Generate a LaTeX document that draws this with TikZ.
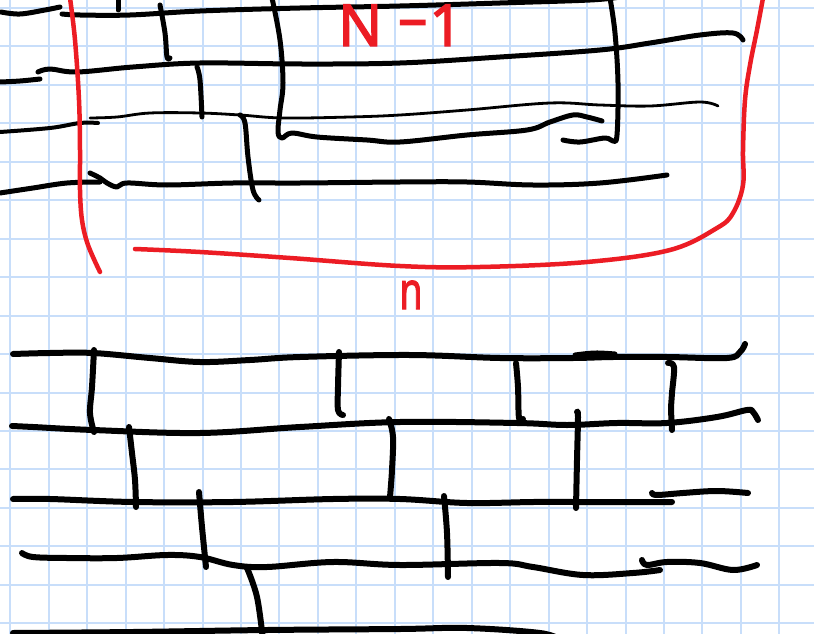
\documentclass[tikz,border=0pt]{standalone}
\usepackage{fontspec}
\newfontfamily\hand[FakeBold=2.2]{Noto Sans}
\definecolor{gridblue}{RGB}{200,222,250}
\definecolor{penred}{RGB}{236,28,36}
\tikzset{
  gridline/.style={draw=gridblue, line width=2pt},
  wall/.style={draw=black, line width=5pt, line cap=round, line join=round},
  wallthick/.style={draw=black, line width=6pt, line cap=round, line join=round},
  wallthin/.style={draw=black, line width=2.8pt, line cap=round, line join=round},
  redpen/.style={draw=penred, line width=4.5pt, line cap=round, line join=round},
  sm/.style={smooth, tension=0.6},
}
\begin{document}
\begin{tikzpicture}[x=1pt, y=-1pt]
\useasboundingbox (0,0) rectangle (814,634);
\fill[white] (0,0) rectangle (814,634);
\begin{scope}
\clip (0,0) rectangle (814,634);
% grid
\foreach \i in {0,...,21} \draw[gridline] ({10.3+38.45*\i},0) -- ({10.3+38.45*\i},634);
\foreach \j in {0,...,16} \draw[gridline] (0,{8+38.45*\j}) -- (814,{8+38.45*\j});

% ---------- top section ----------
% H1
\draw[wall] plot[sm] coordinates {(1,12) (20,14) (45,10) (60,7)};
\draw[wall] plot[sm] coordinates {(62,14) (80,15) (130,15) (200,11) (300,8) (400,6) (500,3) (590,0) (620,-3)};
% H2
\draw[wall] plot[sm] coordinates {(0,82) (20,81) (40,79)};
\draw[wall] plot[sm] coordinates {(38,72) (50,69) (77,72) (133,67) (200,63) (300,64) (400,63) (500,57) (600,50) (650,43) (700,35) (733,33) (743,40)};
% H3 thin
\draw[wall, line width=4pt] plot[sm] coordinates {(0,132) (50,128) (80,123) (98,123)};
\draw[wallthin] plot[sm] coordinates {(90,118) (117,117) (150,113) (200,113) (240,115) (283,118) (350,117) (400,115) (467,110) (550,103) (600,105) (650,106) (700,102) (718,106)};
% box left + bottom
\draw[wall] plot[sm] coordinates {(272,-2) (280,40) (283,83) (280,110) (278,132) (282,138) (292,133) (317,137) (367,140) (400,142) (467,135) (527,130) (550,122) (573,115) (587,117) (602,121)};
% box right + lower stroke
\draw[wall] plot[sm] coordinates {(610,-2) (615,33) (618,83) (617,135) (613,141) (605,138) (580,142) (563,140)};
% H5
\draw[wall] plot[sm] coordinates {(0,193) (33,188) (67,183) (100,182)};
\draw[wall] plot[sm] coordinates {(90,173) (100,178) (107,183) (117,187) (127,183) (167,185) (233,183) (300,183) (400,182) (467,182) (533,185) (600,183) (667,175)};
% verticals
\draw[wall] (118,-2) -- (118,10);
\draw[wall] plot[sm] coordinates {(160,5) (165,33) (167,57) (170,58)};
\draw[wall] plot[sm] coordinates {(197,67) (200,80) (202,117)};
\draw[wall] plot[sm] coordinates {(240,115) (245,123) (248,157) (253,190) (259,200)};

% red bracket
\draw[redpen] plot[sm] coordinates {(70,-2) (75,40) (79,100) (80,150) (80,190) (82,220) (88,245) (100,272)};
\draw[redpen] plot[sm] coordinates {(135,249) (200,252) (290,258) (400,266) (480,267) (587,262) (670,250) (717,228) (733,213) (743,185) (743,150) (745,100) (750,65) (757,30) (763,-2)};

% ---------- bottom section ----------
% B1
\draw[wallthick] plot[sm] coordinates {(13,354) (50,353) (93,353) (150,358) (200,362) (250,360) (300,357) (410,355) (500,358) (573,358) (613,357) (667,357) (727,358) (740,352) (745,344)};
\draw[wallthick, line width=5pt] plot[sm] coordinates {(575,355) (595,353) (615,354)};
% B2
\draw[wallthick] plot[sm] coordinates {(12,426) (33,427) (93,430) (200,433) (300,427) (400,422) (517,423) (567,425) (617,423) (667,423) (717,417) (747,410) (753,412) (758,420)};
% B3
\draw[wallthick] plot[sm] coordinates {(13,499) (50,499) (133,502) (233,502) (333,499) (400,499) (467,503) (533,502) (577,502) (633,502) (672,502)};
\draw[wallthick] plot[sm] coordinates {(652,493) (657,495) (683,493) (717,491) (748,493)};
% B4
\draw[wallthick] plot[sm] coordinates {(22,553) (33,557) (67,558) (117,558) (167,555) (200,557) (233,565) (267,567) (333,562) (400,565) (500,563) (533,567) (583,575) (633,573) (660,570)};
\draw[wallthick] plot[sm] coordinates {(642,560) (647,565) (667,562) (700,563) (733,570) (757,565)};
% B5
\draw[wallthick] plot[sm] coordinates {(13,633) (133,632) (267,630) (400,629) (467,628) (540,633) (560,640)};
% verticals
\draw[wallthick] plot[sm] coordinates {(94,350) (92,387) (90,413) (94,432)};
\draw[wallthick] plot[sm] coordinates {(129,427) (132,453) (135,480) (136,507)};
\draw[wallthick] plot[sm] coordinates {(199,492) (202,527) (206,567)};
\draw[wallthick] plot[sm] coordinates {(247,568) (257,597) (263,640)};
\draw[wallthick] plot[sm] coordinates {(339,352) (338,387) (338,410) (343,415)};
\draw[wallthick] plot[sm] coordinates {(389,419) (393,437) (392,470) (390,497)};
\draw[wallthick] plot[sm] coordinates {(516,363) (518,387) (519,418) (523,419)};
\draw[wallthick] plot[sm] coordinates {(577,412) (578,417) (577,460) (576,508)};
\draw[wallthick] plot[sm] coordinates {(668,363) (674,367) (672,393) (671,407) (672,430)};
\draw[wallthick] plot[sm] coordinates {(444,496) (447,533) (448,577)};

% labels
\node[anchor=base west, inner sep=0pt, text=penred, font={\hand\fontsize{58}{58}\selectfont}] (top) at (338,46) {N\hspace{16pt}\raisebox{8pt}{–}\hspace{2pt}1};
\node[anchor=base, inner sep=0pt, text=penred, font={\hand\fontsize{52}{52}\selectfont}] (n) at (411,309) {\scalebox{0.72}[1]{n}};
\end{scope}
\end{tikzpicture}
\end{document}
